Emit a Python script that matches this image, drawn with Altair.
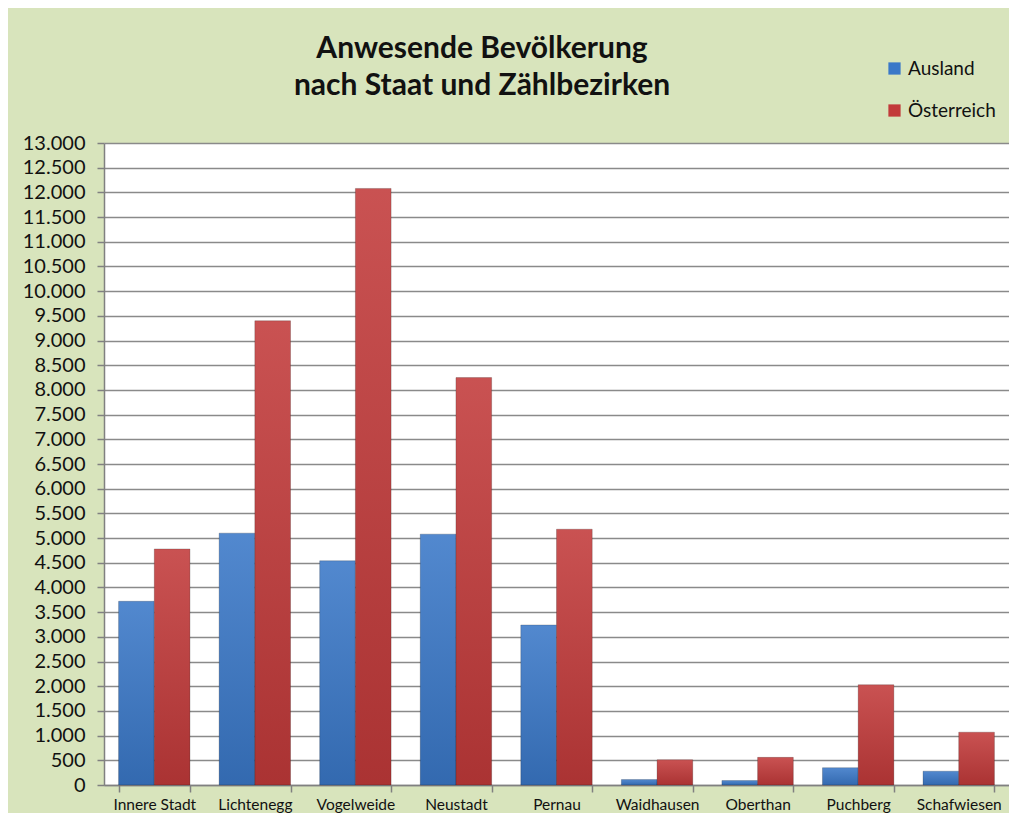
import altair as alt
import pandas as pd

categories = ["Innere Stadt", "Lichtenegg", "Vogelweide", "Neustadt", "Pernau",
              "Waidhausen", "Oberthan", "Puchberg", "Schafwiesen"]
ausland = [3720, 5100, 4540, 5080, 3240, 110, 90, 350, 280]
oesterreich = [4780, 9400, 12080, 8250, 5180, 510, 560, 2030, 1070]
series = ["Ausland", "Österreich"]
colors = ["#3a78c8", "#c23a3a"]
title_lines = ["Anwesende Bevölkerung", "nach Staat und Zählbezirken"]

rows = []
for i, c in enumerate(categories):
    rows.append({"Bezirk": c, "Staat": "Ausland", "Wert": ausland[i]})
    rows.append({"Bezirk": c, "Staat": "Österreich", "Wert": oesterreich[i]})
df = pd.DataFrame(rows)

FONT = "Lato"

x_enc = alt.X("Bezirk:N", sort=categories,
              scale=alt.Scale(paddingInner=0.29, paddingOuter=0.145),
              axis=alt.Axis(title=None, labelAngle=0, labelFontSize=15.5, labelColor="#111",
                            labelFont=FONT, tickBand="extent", tickSize=7, tickColor="#808080",
                            domainColor="#808080", domainWidth=1.5, tickWidth=1.5,
                            labelPadding=5, grid=False))
y_enc = alt.Y("Wert:Q", scale=alt.Scale(domain=[0, 13000], nice=False),
              axis=alt.Axis(title=None, values=list(range(0, 13001, 500)),
                            labelExpr="replace(format(datum.value, ',d'), ',', '.')",
                            labelFontSize=20, labelFont=FONT, labelColor="#111",
                            labelOverlap=False,
                            tickSize=7, tickColor="#808080", tickWidth=1.5,
                            domainColor="#808080", domainWidth=1.5, labelPadding=12,
                            grid=True, gridColor="#8a8a8a", gridWidth=1.5))
xo = alt.XOffset("Staat:N", sort=series, scale=alt.Scale(paddingInner=0, paddingOuter=0))

bars = alt.Chart(df).mark_bar(stroke="#00000033", strokeWidth=1).encode(
    x=x_enc, y=y_enc, xOffset=xo,
    color=alt.Color("Staat:N", sort=series,
                    scale=alt.Scale(domain=series, range=colors),
                    legend=alt.Legend(title=None, orient="none", legendX=781, legendY=-84,
                                      symbolType="square", symbolSize=150,
                                      symbolStrokeWidth=0, labelFontSize=19,
                                      labelFont=FONT, labelColor="#111",
                                      rowPadding=22, labelOffset=4)),
)

shade = alt.Chart(df).mark_bar(
    color=alt.Gradient(gradient="linear", x1=0, y1=0, x2=0, y2=1,
                       stops=[alt.GradientStop(color="rgba(255,255,255,0.12)", offset=0),
                              alt.GradientStop(color="rgba(0,0,0,0.12)", offset=1)])
).encode(x=x_enc, y=y_enc, xOffset=xo)

title = alt.Chart(pd.DataFrame({"t": ["\n".join(title_lines)]})).mark_text(
    font=FONT, fontSize=30, fontWeight="bold", color="#111", align="center",
    baseline="alphabetic", lineBreak="\n", lineHeight=37
).encode(text="t:N", x=alt.value(378), y=alt.value(-85))

chart = alt.layer(bars, shade, title).properties(
    width=905, height=642,
    padding={"left": 96, "top": 135, "right": 0, "bottom": 28},
    autosize="none",
    background="#d8e4bc",
).configure_view(fill="white", stroke=None)

chart.save("out.html", embed_options={"renderer": "svg", "actions": False})
